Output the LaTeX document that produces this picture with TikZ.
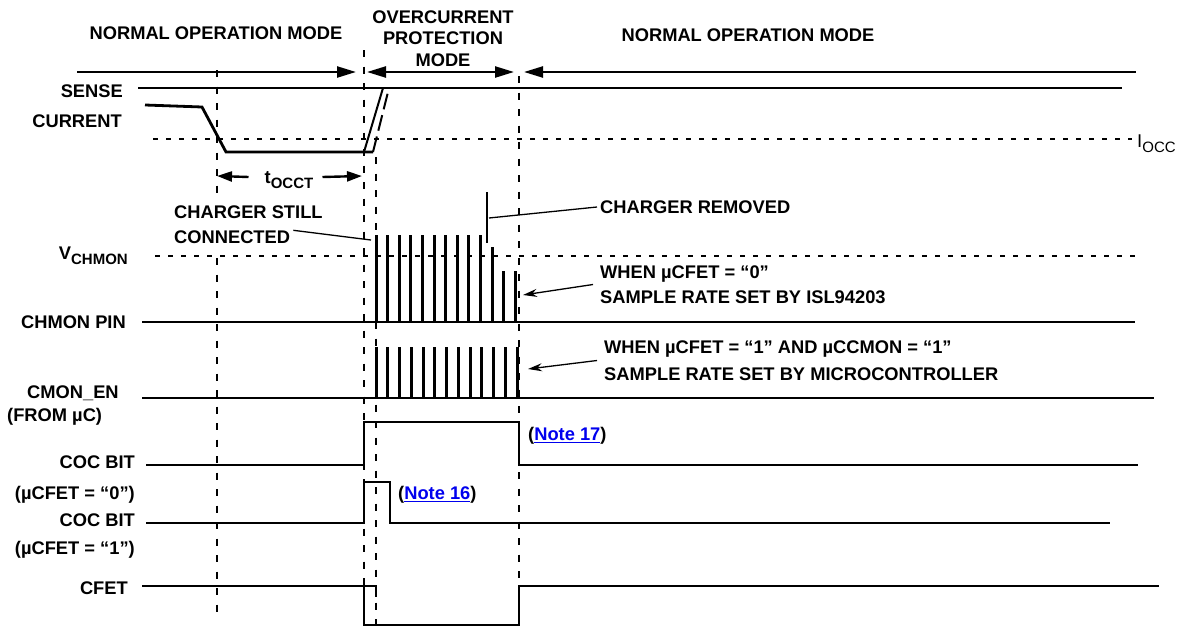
\documentclass[tikz,border=0pt]{standalone}
\usepackage{fontspec}
\setmainfont{Liberation Sans}
\usepackage{tikz}
\usetikzlibrary{arrows.meta,calc}
\definecolor{notelink}{HTML}{0000EE}
\newcommand{\lowsub}[2][15]{\raisebox{-5pt}{\fontsize{#1}{#1}\selectfont #2}}

\begin{document}
\begin{tikzpicture}[
  x=1pt,y=-1pt,
  lbl/.style={font=\bfseries\fontsize{18.3}{22}\selectfont,inner sep=0pt,text height=13pt,text depth=0pt},
  sig/.style={line width=2.8pt},
  pulse/.style={line width=3pt},
  guide/.style={line width=1.8pt,dash pattern=on 7pt off 9.5pt},
  level/.style={line width=1.8pt,dash pattern=on 4.5pt off 8.5pt},
  modetip/.tip={Triangle[length=19pt,width=11pt]},
  modearrow/.style={line width=2.3pt},
  dim/.style={line width=2.4pt,-{Triangle[length=15pt,width=10pt]}},
  leader/.style={line width=1.3pt},
  pointer/.style={line width=1.3pt,-{Stealth[length=14pt,width=8pt]}}
]
\useasboundingbox (0,0) rectangle (1180,629);

\node[lbl] (normal1) at (216,33) {NORMAL OPERATION MODE};
\node[lbl] (ocp1) at (443,17) {OVERCURRENT};
\node[lbl] (ocp2) at (443,38) {PROTECTION};
\node[lbl] (ocp3) at (443,60) {MODE};
\node[lbl] (normal2) at (748,35) {NORMAL OPERATION MODE};

\coordinate (m0) at (77,72);
\coordinate (m1) at (356,72);
\coordinate (m2) at (367,72);
\coordinate (m3) at (514,72);
\coordinate (m4) at (524,72);
\coordinate (m5) at (1136,72);
\draw[modearrow,-{modetip}] (m0) -- (m1);
\draw[modearrow,{modetip}-{modetip}] (m2) -- (m3);
\draw[modearrow,{modetip}-] (m4) -- (m5);

\draw[guide] (217,70) -- (217,193);
\draw[guide] (217,258) -- (217,617);
\draw[guide] (364,50) -- (364,626);
\draw[guide] (376,157) -- (376,628);
\draw[guide] (519,76) -- (519,586);

\node[lbl,anchor=east] (sense) at (123,91) {SENSE};
\node[lbl,anchor=east] (current) at (122,121) {CURRENT};
\draw[sig] (138,88) -- (1122,88);
\draw[sig] (145,105) -- (202,107) -- (226,152) -- (373,152);
\draw[line width=2pt] (364,152) -- (383,88);
\draw[line width=2pt,dash pattern=on 16pt off 6pt] (373,152) -- (389,88);
\draw[level] (153,139) -- (1132,139);
\node[inner sep=0pt,text height=13pt,text depth=0pt,anchor=west,font=\fontsize{18.5}{20}\selectfont] (iocc) at (1137,141) {I\lowsub[15]{OCC}};

\node[lbl] (tocct) at (289,177) {t\lowsub{OCCT}};
\coordinate (tl) at (217,176);
\coordinate (tr) at (362,176);
\draw[dim] ([xshift=-16pt]tocct.west) -- (tl);
\draw[dim] ([xshift=9pt]tocct.east) -- (tr);

\node[lbl,anchor=west] (still1) at (174,212) {CHARGER STILL};
\node[lbl,anchor=west] (still2) at (174,237) {CONNECTED};
\coordinate (stillpt) at (371,240);
\draw[leader] ([xshift=3pt]still2.north east) -- (stillpt);
\node[lbl,anchor=west] (removed) at (600,207) {CHARGER REMOVED};
\coordinate (removedpt) at (489,218);
\draw[leader] ([xshift=-3pt]removed.west) -- (removedpt);
\draw[leader,line width=1.8pt] (487,192) -- (487,243);

\node[lbl,anchor=east] (vchmon) at (128,253) {V\lowsub{CHMON}};
\draw[level] (155,256) -- (1135,256);
\node[lbl,anchor=east] (chmonpin) at (126,322) {CHMON PIN};
\draw[sig] (142,322) -- (1135,322);
\foreach \h [count=\i from 0] in {235,235,235,235,235,235,235,235,235,235,247,271,271}
  \draw[pulse] ({376+11.6*\i},322) -- ({376+11.6*\i},\h);
\node[lbl,anchor=west] (when0) at (600,272) {WHEN µCFET = “0”};
\node[lbl,anchor=west] (rate0) at (600,297) {SAMPLE RATE SET BY ISL94203};
\coordinate (chmonpt) at (523,295);
\draw[pointer] ($(when0.west)!0.5!(rate0.west)+(-7,0)$) -- (chmonpt);

\node[lbl,anchor=west] (cmonen) at (27,392) {CMON\_EN};
\node[lbl,anchor=west] (fromuc) at (7,415) {(FROM µC)};
\draw[sig] (142,398) -- (1154,398);
\foreach \i in {0,...,12}
  \draw[pulse] ({376+11.75*\i},398) -- ({376+11.75*\i},347);
\node[lbl,anchor=west] (when1) at (604,347) {WHEN µCFET = “1” AND µCCMON = “1”};
\node[lbl,anchor=west] (rate1) at (604,374) {SAMPLE RATE SET BY MICROCONTROLLER};
\coordinate (cmonpt) at (528,369);
\draw[pointer] ($(when1.west)!0.5!(rate1.west)+(-7,0)$) -- (cmonpt);

\node[lbl,anchor=east] (coc0) at (135,462) {COC BIT};
\node[lbl,anchor=east] (coc0mode) at (135,493) {(µCFET = “0”)};
\draw[sig] (146,465) -- (364,465) -- (364,422) -- (519,422) -- (519,465) -- (1138,465);
\node[lbl,anchor=west] (note17) at (528,434) {(\textcolor{notelink}{\underline{Note 17}})};

\node[lbl,anchor=east] (coc1) at (135,520) {COC BIT};
\node[lbl,anchor=east] (coc1mode) at (135,548) {(µCFET = “1”)};
\draw[sig] (146,523) -- (364,523) -- (364,482) -- (390,482) -- (390,523) -- (1110,523);
\node[lbl,anchor=west] (note16) at (398,493) {(\textcolor{notelink}{\underline{Note 16}})};

\node[lbl,anchor=east] (cfet) at (128,588) {CFET};
\draw[sig] (142,586) -- (364,586) -- (364,625) -- (519,625) -- (519,586) -- (1159,586);
\draw[sig] (364,586) -- (376,586) -- (376,597);
\end{tikzpicture}
\end{document}
